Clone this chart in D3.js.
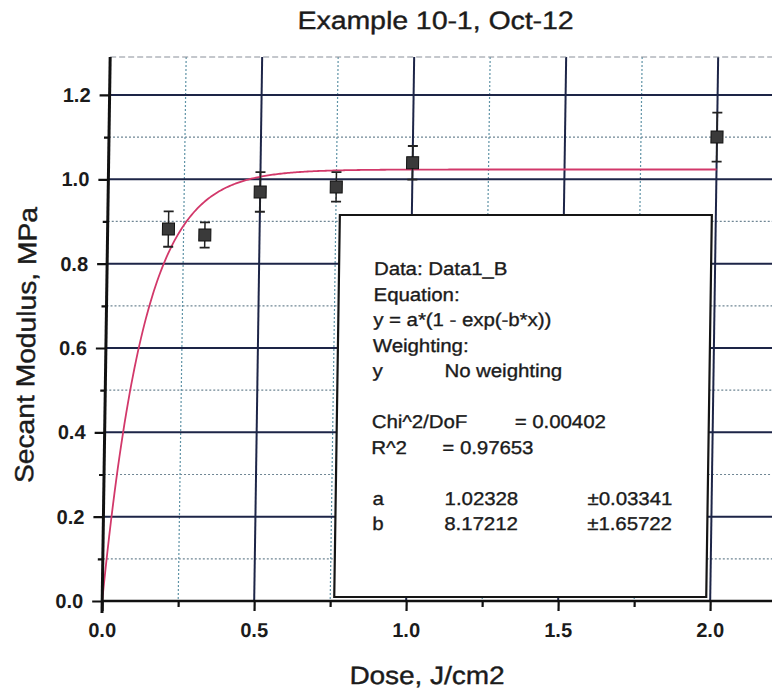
<!DOCTYPE html>
<html>
<head>
<meta charset="utf-8">
<script src="https://d3js.org/d3.v7.min.js"></script>
<style>
  body { margin: 0; background: #fff; }
  svg text { font-family: "Liberation Sans", Arial, sans-serif; fill: #1b1b1b; }
</style>
</head>
<body>
<div id="my_dataviz"></div>
<script>
// measured points: dose, secant modulus, half height of the error bar
var doses = [0.2, 0.32, 0.5, 0.75, 1.0, 2.0]
var modulus = [0.882, 0.868, 0.970, 0.982, 1.039, 1.100]
var errors = [0.042, 0.030, 0.047, 0.035, 0.040, 0.058]

// fit result printed in the box: y = a*(1 - exp(-b*x))
var fitNames = ["a", "b"]
var fitValues = [1.02328, 8.17212]
var fitErrors = [0.03341, 1.65722]
var chi2 = "0.00402"
var r2 = "0.97653"

var xTicks = [0, 0.5, 1.0, 1.5, 2.0]
var xMinor = [0.25, 0.75, 1.25, 1.75, 2.25]
var yTicks = [0, 0.2, 0.4, 0.6, 0.8, 1.0, 1.2]
var yMinor = [0.1, 0.3, 0.5, 0.7, 0.9, 1.1]

var width = 772, height = 690
var plotLeft = 111, plotTop = 57, plotBottom = 601

var x = d3.scaleLinear().domain([0, 2.2]).range([plotLeft, plotLeft + 2.2 * 304])
var y = d3.scaleLinear().domain([0, 1.29]).range([plotBottom, plotTop])

var svg = d3.select("#my_dataviz")
  .append("svg")
    .attr("width", width)
    .attr("height", height)

// the scanned page is slightly sheared, so everything leans a bit
var g = svg.append("g").attr("transform", "skewX(-0.84)")

// grid: dotted minor lines first, then the heavy major lines
g.selectAll(".ygridMinor").data(yMinor).enter().append("line")
  .attr("x1", plotLeft).attr("x2", width + 20)
  .attr("y1", d => y(d)).attr("y2", d => y(d))
  .attr("stroke", "#6f8694").attr("stroke-width", 1.2).attr("stroke-dasharray", "2,2")
g.selectAll(".xgridMinor").data(xMinor).enter().append("line")
  .attr("x1", d => x(d)).attr("x2", d => x(d))
  .attr("y1", plotTop).attr("y2", plotBottom)
  .attr("stroke", "#5f93a6").attr("stroke-width", 1.2).attr("stroke-dasharray", "2,2")
g.selectAll(".ygrid").data(yTicks.slice(1)).enter().append("line")
  .attr("x1", plotLeft).attr("x2", width + 20)
  .attr("y1", d => y(d)).attr("y2", d => y(d))
  .attr("stroke", "#1d2547").attr("stroke-width", 2)
g.selectAll(".xgrid").data(xTicks.slice(1)).enter().append("line")
  .attr("x1", d => x(d)).attr("x2", d => x(d))
  .attr("y1", plotTop).attr("y2", plotBottom)
  .attr("stroke", "#1d2547").attr("stroke-width", 2)

// faint top frame
g.append("line")
  .attr("x1", plotLeft).attr("x2", width + 20)
  .attr("y1", plotTop).attr("y2", plotTop)
  .attr("stroke", "#8a8f99").attr("stroke-width", 1).attr("stroke-dasharray", "6,3")

// fitted curve from the parameters in the box
var curve = d3.range(0, 2.0001, 0.005).map(function(d) {
  return [d, fitValues[0] * (1 - Math.exp(-fitValues[1] * d))]
})
g.append("path")
  .datum(curve)
  .attr("fill", "none")
  .attr("stroke", "#d2386a")
  .attr("stroke-width", 1.8)
  .attr("d", d3.line().x(d => x(d[0])).y(d => y(d[1])))

// error bars and square markers
var pts = doses.map(function(d, i) { return { x: d, y: modulus[i], e: errors[i] } })
var pg = g.selectAll(".pt").data(pts).enter().append("g")
pg.append("line")
  .attr("x1", d => x(d.x)).attr("x2", d => x(d.x))
  .attr("y1", d => y(d.y + d.e)).attr("y2", d => y(d.y - d.e))
  .attr("stroke", "#222").attr("stroke-width", 1.5)
pg.selectAll(".cap").data(d => [[d.x, d.y + d.e], [d.x, d.y - d.e]]).enter().append("line")
  .attr("x1", d => x(d[0]) - 5).attr("x2", d => x(d[0]) + 5)
  .attr("y1", d => y(d[1])).attr("y2", d => y(d[1]))
  .attr("stroke", "#222").attr("stroke-width", 1.8)
pg.append("rect")
  .attr("x", d => x(d.x) - 6).attr("y", d => y(d.y) - 6)
  .attr("width", 12).attr("height", 12)
  .attr("fill", "#3a3a3a").attr("stroke", "#111").attr("stroke-width", 1)

// results box
var box = g.append("g")
box.append("rect")
  .attr("x", 343).attr("y", 215).attr("width", 372).attr("height", 382)
  .attr("fill", "#fff").attr("stroke", "#151515").attr("stroke-width", 2.2)

function boxText(str, tx, ty) {
  box.append("text")
    .attr("transform", "translate(" + tx + "," + ty + ") scale(1.1,1)")
    .style("font-size", "18.5px")
    .attr("stroke", "#1b1b1b").attr("stroke-width", 0.35)
    .text(str)
}
function row(i) { return 275 + 25.5 * i }
boxText("Data: Data1_B", 378, row(0))
boxText("Equation:", 378, row(1))
boxText("y = a*(1 - exp(-b*x))", 378, row(2))
boxText("Weighting:", 378, row(3))
boxText("y", 378, row(4))
boxText("No weighting", 450, row(4))
boxText("Chi^2/DoF", 378, row(6))
boxText("= " + chi2, 521, row(6))
boxText("R^2", 378, row(7))
boxText("=  " + r2, 449, row(7))
fitNames.forEach(function(n, i) {
  boxText(n, 380, row(9 + i))
  boxText(fitValues[i].toFixed(5), 452, row(9 + i))
  boxText("\u00b1" + fitErrors[i].toFixed(5), 595, row(9 + i))
})

// axes
g.append("g").attr("transform", "translate(" + plotLeft + ",0)")
  .call(d3.axisLeft(y).tickValues(yTicks).tickSize(10).tickPadding(9).tickFormat(d3.format(".1f")))
g.append("g").attr("transform", "translate(" + plotLeft + ",0)")
  .call(d3.axisLeft(y).tickValues(yMinor).tickSize(5).tickFormat(""))
g.append("g").attr("transform", "translate(0," + plotBottom + ")")
  .call(d3.axisBottom(x).tickValues(xTicks).tickSize(10).tickPadding(12).tickFormat(d3.format(".1f")))
g.append("g").attr("transform", "translate(0," + plotBottom + ")")
  .call(d3.axisBottom(x).tickValues(xMinor.slice(0, 4)).tickSize(6).tickFormat(""))

g.selectAll(".domain").remove()
g.selectAll(".tick line").attr("stroke", "#111").attr("stroke-width", 2.2)
g.selectAll(".tick text")
  .style("font-size", "20px").style("font-weight", "bold")
  .attr("fill", "#1b1b1b")

// axis lines
g.append("line")
  .attr("x1", plotLeft).attr("x2", plotLeft)
  .attr("y1", plotTop).attr("y2", plotBottom + 12)
  .attr("stroke", "#111").attr("stroke-width", 3)
g.append("line")
  .attr("x1", plotLeft).attr("x2", width + 20)
  .attr("y1", plotBottom).attr("y2", plotBottom)
  .attr("stroke", "#111").attr("stroke-width", 2.4)

// titles
g.append("text")
  .attr("x", 436).attr("y", 29)
  .attr("text-anchor", "middle")
  .attr("textLength", 276).attr("lengthAdjust", "spacingAndGlyphs")
  .attr("stroke", "#1b1b1b").attr("stroke-width", 0.4)
  .style("font-size", "25px")
  .text("Example 10-1, Oct-12")
g.append("text")
  .attr("x", 437).attr("y", 684)
  .attr("text-anchor", "middle")
  .attr("textLength", 155).attr("lengthAdjust", "spacingAndGlyphs")
  .attr("stroke", "#1b1b1b").attr("stroke-width", 0.4)
  .style("font-size", "25px")
  .text("Dose, J/cm2")
g.append("text")
  .attr("transform", "translate(40,345) rotate(-90)")
  .attr("text-anchor", "middle")
  .attr("textLength", 276).attr("lengthAdjust", "spacingAndGlyphs")
  .attr("stroke", "#1b1b1b").attr("stroke-width", 0.4)
  .style("font-size", "26px")
  .text("Secant Modulus, MPa")
</script>
</body>
</html>
